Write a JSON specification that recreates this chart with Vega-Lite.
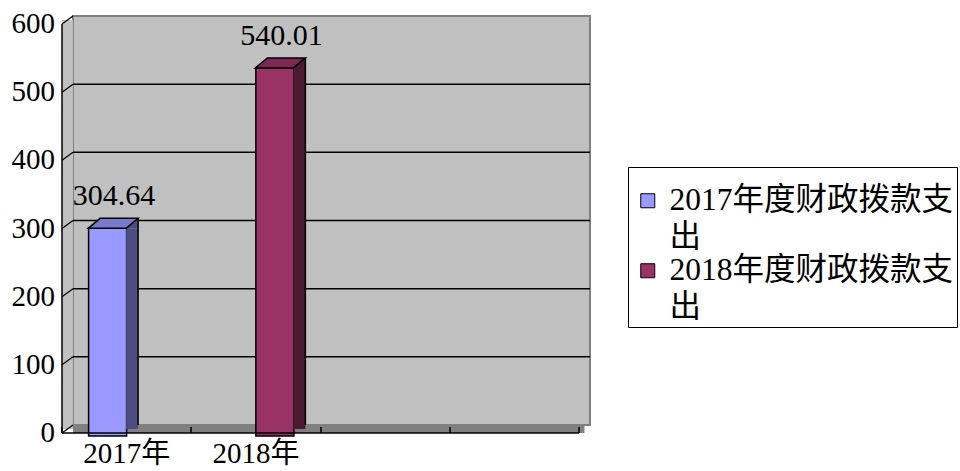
{
  "$schema": "https://vega.github.io/schema/vega-lite/v6.json",
  "width": 517,
  "height": 409,
  "autosize": {"type": "none"},
  "padding": {"left": 73, "top": 16, "right": 370, "bottom": 46},
  "background": "white",
  "datasets": {
    "bars": [
      {"cat": "2017年", "series": "2017年度财政拨款支出", "value": 304.64},
      {"cat": "2018年", "series": "2018年度财政拨款支出", "value": 540.01}
    ],
    "ticks": [{"v": 0}, {"v": 100}, {"v": 200}, {"v": 300}, {"v": 400}, {"v": 500}, {"v": 600}]
  },
  "config": {
    "view": {"fill": "#C0C0C0", "stroke": "#808080", "strokeWidth": 2},
    "font": "'Liberation Serif', 'Noto Sans CJK SC'"
  },
  "resolve": {"scale": {"color": "independent", "xOffset": "independent"}},
  "layer": [
    {
      "data": {"name": "ticks"},
      "transform": [{"filter": "datum.v == 0"}],
      "mark": {"type": "rule", "color": "#C0C0C0", "strokeWidth": 11, "xOffset": -5.5, "x2Offset": -5.5, "yOffset": 4, "y2Offset": 4},
      "encoding": {
        "x": {"datum": "2017年", "bandPosition": 0, "type": "nominal", "scale": {"domain": ["2017年", "2018年", " ", "  "], "paddingInner": 0, "paddingOuter": 0}},
        "y": {"datum": 0, "type": "quantitative"},
        "y2": {"datum": 600}
      }
    },
    {
      "data": {"name": "ticks"},
      "transform": [{"filter": "datum.v == 0"}],
      "mark": {"type": "rule", "color": "#808080", "strokeWidth": 8, "xOffset": -5.5, "x2Offset": -5.5, "yOffset": 4, "y2Offset": 4},
      "encoding": {
        "y": {"field": "v", "type": "quantitative"}
      }
    },
    {
      "data": {"name": "ticks"},
      "transform": [{"filter": "datum.v > 0 && datum.v < 600"}],
      "mark": {"type": "rule", "color": "black", "strokeWidth": 1.5},
      "encoding": {
        "y": {"field": "v", "type": "quantitative"}
      }
    },
    {
      "data": {"name": "ticks"},
      "mark": {"type": "rule", "color": "black", "strokeWidth": 1.2, "xOffset": -11, "yOffset": 8, "x2Offset": 0, "y2Offset": 0},
      "encoding": {
        "x": {"datum": "2017年", "bandPosition": 0, "type": "nominal"},
        "x2": {"datum": "2017年", "bandPosition": 0},
        "y": {"field": "v", "type": "quantitative"},
        "y2": {"field": "v"}
      }
    },
    {
      "data": {"name": "bars"},
      "mark": {"type": "bar", "stroke": "black", "strokeWidth": 1.5, "yOffset": 11, "y2Offset": 7.5},
      "encoding": {
        "x": {
          "field": "cat", "type": "nominal",
          "scale": {"domain": ["2017年", "2018年", " ", "  "], "paddingInner": 0, "paddingOuter": 0},
          "axis": {
            "orient": "bottom", "title": null, "translate": -11, "offset": 19, "zindex": 1,
            "tickBand": "extent", "tickSize": -6, "tickColor": "black", "tickWidth": 1.5,
            "domainColor": "black", "domainWidth": 1.5,
            "labelAngle": 0, "labelAlign": "center", "labelBaseline": "top",
            "labelPadding": 13, "labelFontSize": 29, "labelColor": "black",
            "labelFont": "'Liberation Serif', 'Noto Sans CJK SC'"
          }
        },
        "xOffset": {
          "field": "series", "type": "nominal",
          "scale": {"type": "band", "domain": ["2017年度财政拨款支出", "2018年度财政拨款支出"], "paddingInner": 0, "paddingOuter": 0.7, "align": 0.293}
        },
        "y": {
          "field": "value", "type": "quantitative",
          "scale": {"domain": [0, 600], "nice": false},
          "axis": {
            "orient": "left", "title": null, "offset": 19, "translate": 8, "zindex": 1,
            "values": [0, 100, 200, 300, 400, 500, 600],
            "ticks": false, "grid": false,
            "domainColor": "black", "domainWidth": 1.5,
            "labelPadding": 7, "labelFontSize": 29, "labelColor": "black",
            "labelFont": "'Liberation Serif', 'Noto Sans CJK SC'"
          }
        },
        "color": {
          "field": "series", "type": "nominal",
          "scale": {"domain": ["2017年度财政拨款支出", "2018年度财政拨款支出"], "range": ["#9999FF", "#993366"]},
          "legend": {
            "title": " ", "titleFontSize": 10, "titlePadding": 5,
            "orient": "none", "legendX": 555, "legendY": 151,
            "strokeColor": "black", "padding": 3,
            "symbolType": "square", "symbolSize": 196, "symbolStrokeColor": "black", "symbolStrokeWidth": 1,
            "symbolOpacity": 1, "symbolOffset": 1,
            "labelFont": "'Liberation Serif', 'Noto Sans CJK SC'", "labelFontSize": 31.5, "labelColor": "black",
            "labelOffset": 6, "labelLimit": 0, "rowPadding": 0,
            "labelExpr": "[substring(datum.label, 0, 11), substring(datum.label, 11)]",
            "encode": {"labels": {"update": {"lineHeight": {"value": 37}}}}
          }
        }
      }
    },
    {
      "data": {"name": "bars"},
      "mark": {"type": "rule", "strokeWidth": 12, "strokeCap": "butt", "yOffset": 11, "y2Offset": 4},
      "encoding": {
        "x": {"field": "cat", "type": "nominal"},
        "xOffset": {
          "field": "series", "type": "nominal",
          "scale": {"type": "band", "domain": ["2017年度财政拨款支出", "2018年度财政拨款支出"], "paddingInner": 0, "paddingOuter": 0.7, "align": 0.754}
        },
        "y": {"field": "value", "type": "quantitative"},
        "y2": {"datum": 0},
        "color": {
          "field": "series", "type": "nominal", "legend": null,
          "scale": {"domain": ["2017年度财政拨款支出", "2018年度财政拨款支出"], "range": ["#4D4D80", "#4D1A33"]}
        }
      }
    },
    {
      "data": {"name": "bars"},
      "mark": {"type": "point", "shape": "M7.5,11L19.5,1L19.5,11Z", "size": 4, "filled": true, "opacity": 1, "strokeWidth": 0},
      "encoding": {
        "x": {"field": "cat", "type": "nominal"},
        "xOffset": {
          "field": "series", "type": "nominal",
          "scale": {"type": "band", "domain": ["2017年度财政拨款支出", "2018年度财政拨款支出"], "paddingInner": 0, "paddingOuter": 0.7}
        },
        "y": {"field": "value", "type": "quantitative"},
        "color": {
          "field": "series", "type": "nominal", "legend": null,
          "scale": {"domain": ["2017年度财政拨款支出", "2018年度财政拨款支出"], "range": ["#4D4D80", "#4D1A33"]}
        }
      }
    },
    {
      "data": {"name": "bars"},
      "mark": {"type": "point", "shape": "M-30.5,11L7.5,11L19.5,1L-18.5,1Z", "size": 4, "filled": true, "opacity": 1, "stroke": "black", "strokeWidth": 1.5},
      "encoding": {
        "x": {"field": "cat", "type": "nominal"},
        "xOffset": {
          "field": "series", "type": "nominal",
          "scale": {"type": "band", "domain": ["2017年度财政拨款支出", "2018年度财政拨款支出"], "paddingInner": 0, "paddingOuter": 0.7}
        },
        "y": {"field": "value", "type": "quantitative"},
        "fill": {
          "field": "series", "type": "nominal", "legend": null,
          "scale": {"domain": ["2017年度财政拨款支出", "2018年度财政拨款支出"], "range": ["#7A7ACC", "#7A2952"]}
        }
      }
    },
    {
      "data": {"name": "bars"},
      "mark": {"type": "rule", "color": "black", "strokeWidth": 1.5, "yOffset": 1, "y2Offset": 0},
      "encoding": {
        "x": {"field": "cat", "type": "nominal"},
        "xOffset": {
          "field": "series", "type": "nominal",
          "scale": {"type": "band", "domain": ["2017年度财政拨款支出", "2018年度财政拨款支出"], "paddingInner": 0, "paddingOuter": 0.7, "align": 0.866}
        },
        "y": {"field": "value", "type": "quantitative"},
        "y2": {"datum": 0}
      }
    },
    {
      "data": {"name": "bars"},
      "mark": {"type": "text", "dx": -4.5, "dy": -21, "fontSize": 30, "baseline": "middle", "align": "center", "color": "black", "font": "'Liberation Serif', 'Noto Sans CJK SC'"},
      "encoding": {
        "x": {"field": "cat", "type": "nominal"},
        "xOffset": {
          "field": "series", "type": "nominal",
          "scale": {"type": "band", "domain": ["2017年度财政拨款支出", "2018年度财政拨款支出"], "paddingInner": 0, "paddingOuter": 0.7}
        },
        "y": {"field": "value", "type": "quantitative"},
        "text": {"field": "value", "type": "quantitative", "format": ".2f"}
      }
    }
  ]
}
